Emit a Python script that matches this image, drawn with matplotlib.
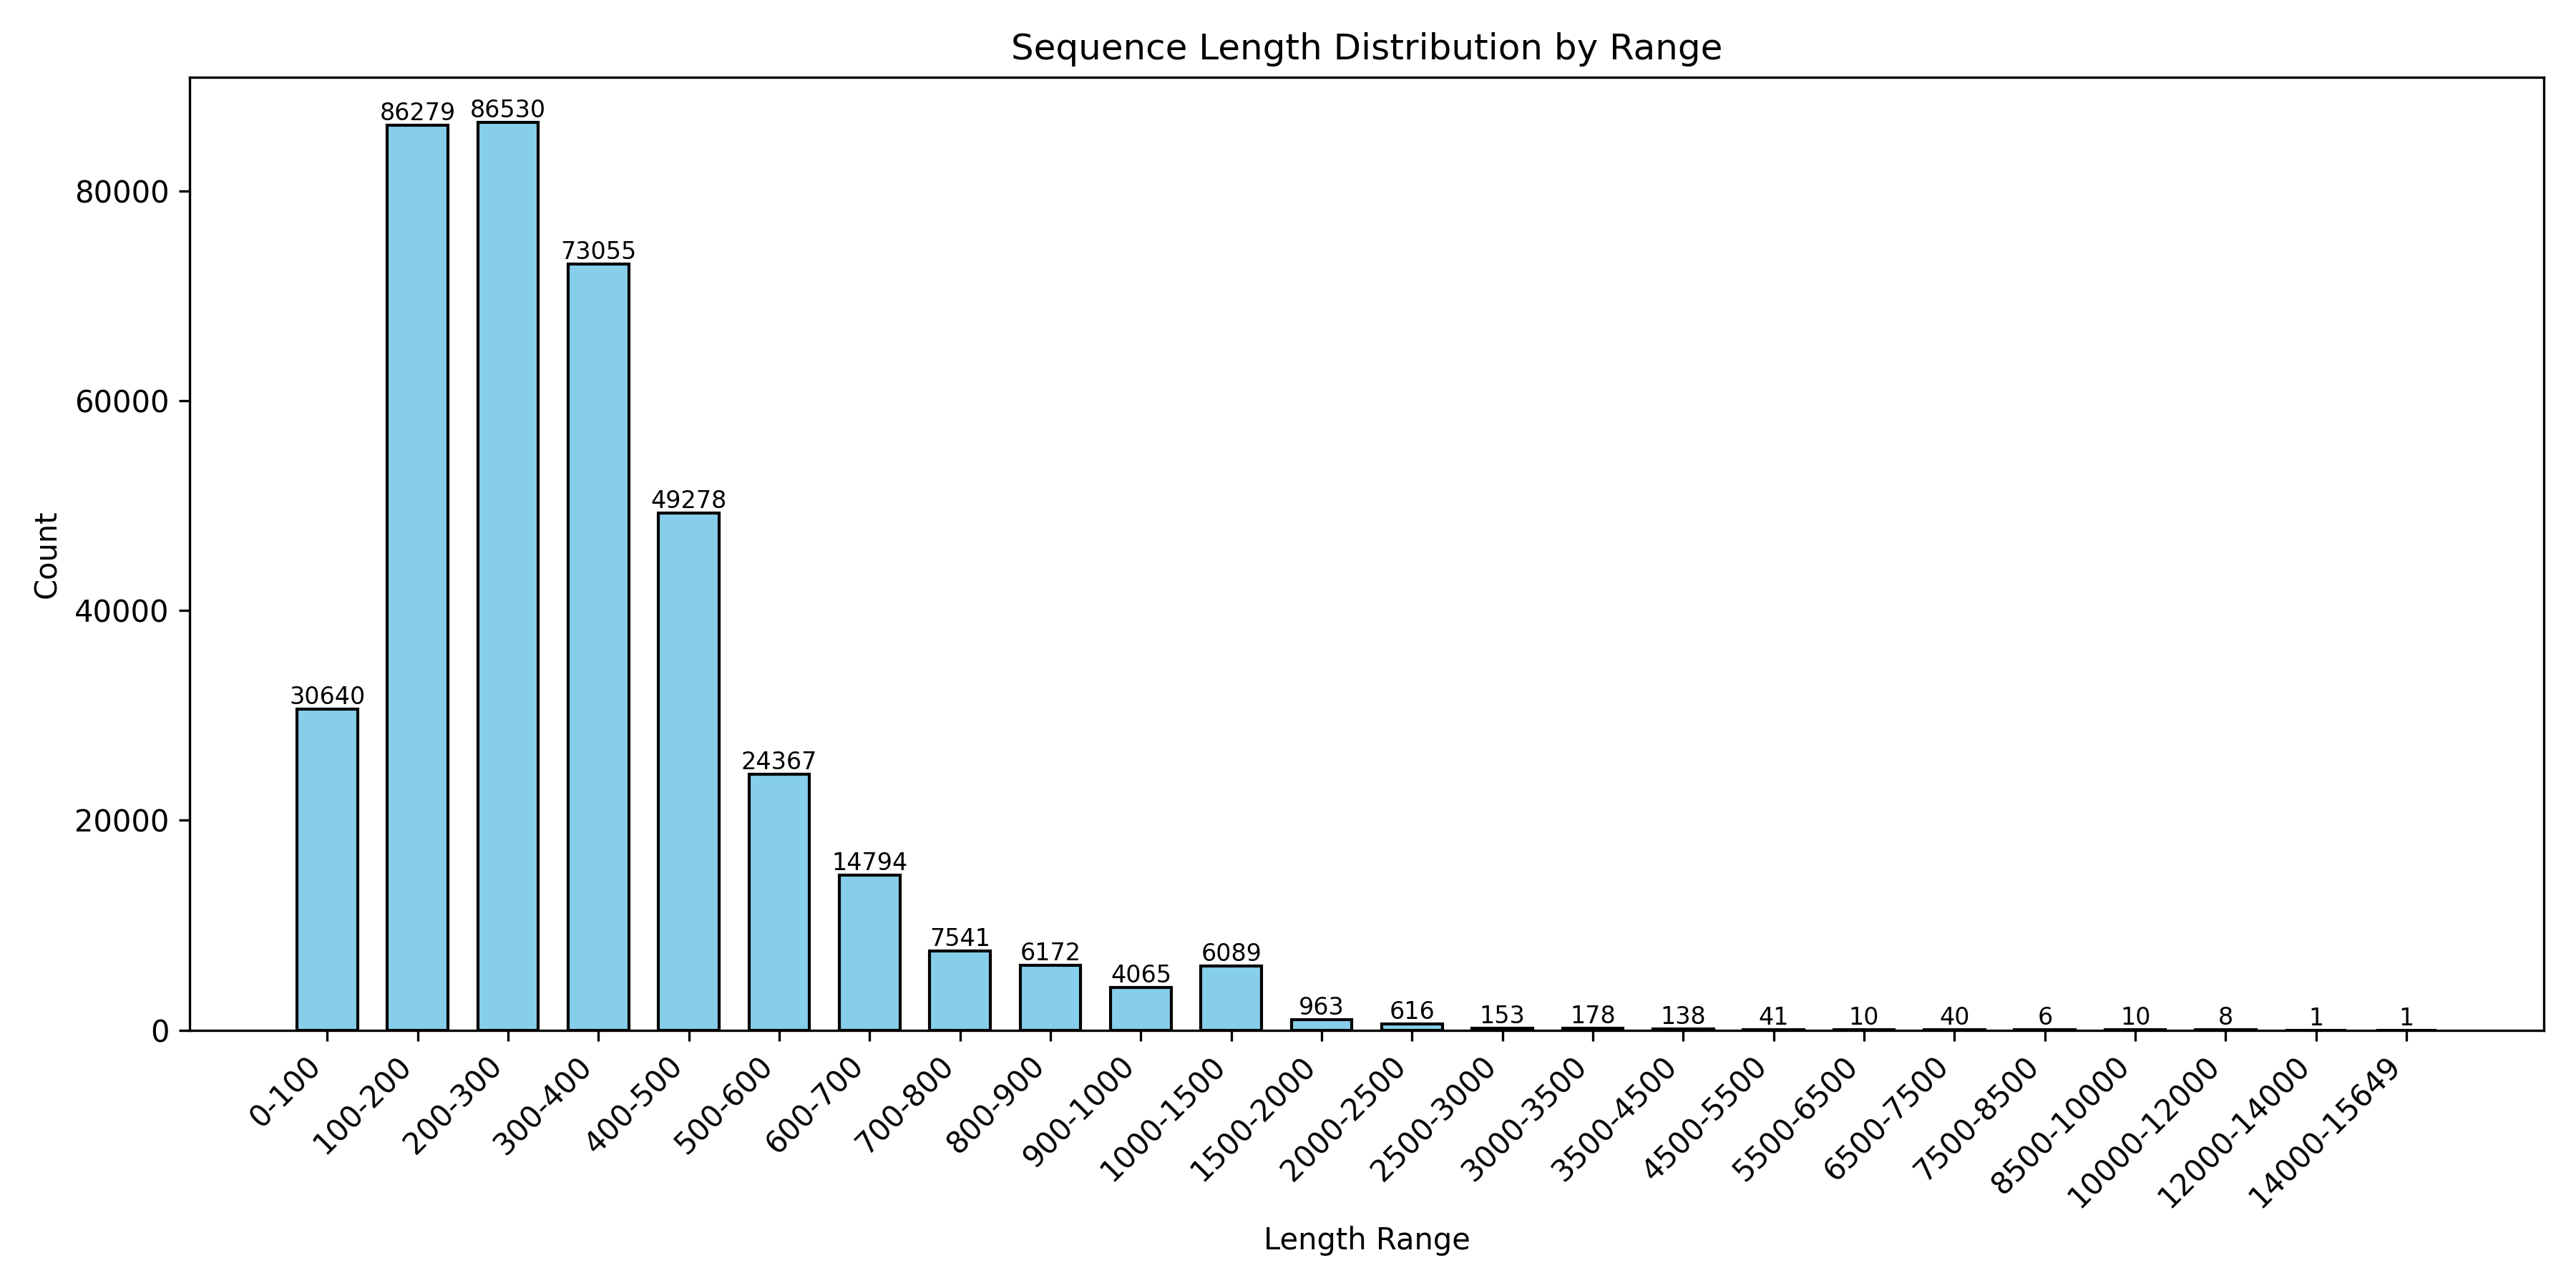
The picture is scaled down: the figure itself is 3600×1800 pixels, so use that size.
import matplotlib
matplotlib.use('Agg')
import matplotlib.pyplot as plt

ranges = ['0-100', '100-200', '200-300', '300-400', '400-500', '500-600',
          '600-700', '700-800', '800-900', '900-1000', '1000-1500', '1500-2000',
          '2000-2500', '2500-3000', '3000-3500', '3500-4500', '4500-5500',
          '5500-6500', '6500-7500', '7500-8500', '8500-10000', '10000-12000',
          '12000-14000', '14000-15649']
counts = [30640, 86279, 86530, 73055, 49278, 24367, 14794, 7541, 6172, 4065,
          6089, 963, 616, 153, 178, 138, 41, 10, 40, 6, 10, 8, 1, 1]

fig, ax = plt.subplots(figsize=(12, 6), dpi=300)
bars = ax.bar(range(len(ranges)), counts, width=0.67, color='skyblue', edgecolor='black')

# value on top of each bar
for b, c in zip(bars, counts):
    ax.text(b.get_x() + b.get_width() / 2, b.get_height(), str(c),
            ha='center', va='bottom', fontsize=8)

ax.set_xticks(range(len(ranges)))
ax.set_xticklabels(ranges, rotation=45, ha='right')
ax.set_xlabel('Length Range')
ax.set_ylabel('Count')
ax.set_title('Sequence Length Distribution by Range')

plt.tight_layout()
plt.savefig('out.png')
